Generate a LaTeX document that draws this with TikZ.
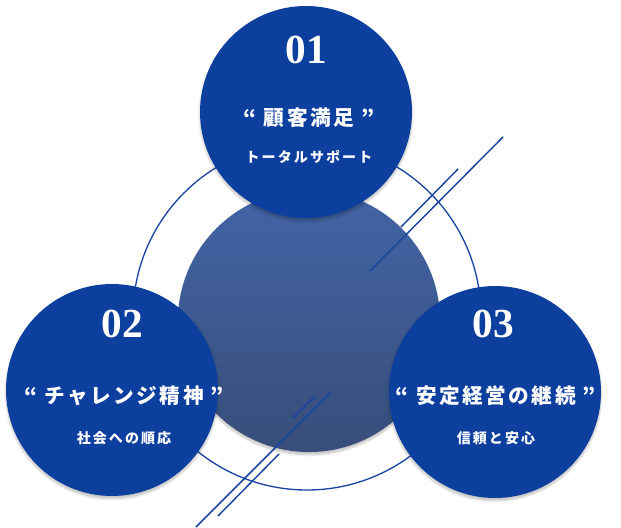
\documentclass[tikz,border=0pt]{standalone}
\usepackage{fontspec}
\newfontfamily\jp{Noto Sans CJK JP}
\newfontfamily\jpm{Noto Sans CJK JP Medium}
\newfontfamily\num{Liberation Serif}
\usetikzlibrary{shadows.blur}
\definecolor{navy}{HTML}{0C3F9E}
\definecolor{gtop}{HTML}{4264A6}
\definecolor{gbot}{HTML}{384E7A}
\definecolor{lineb}{HTML}{1A45A0}
\begin{document}
\begin{tikzpicture}[x=0.75pt,y=-0.75pt,
  bub/.style={circle,fill=navy,minimum size=212*0.75pt,inner sep=0pt,blur shadow={shadow blur steps=8,shadow xshift=0pt,shadow yshift=-2pt,shadow opacity=25}},
  numt/.style={text=white,font=\num\bfseries\fontsize{31}{34}\selectfont},
  ttl/.style={text=white,font=\jp\bfseries\fontsize{15.5}{18}\selectfont\addfontfeature{LetterSpace=12}},
  sub/.style={text=white,font=\jp\bfseries\fontsize{10.5}{12}\selectfont\addfontfeature{LetterSpace=15}},
  ln/.style={draw=lineb,line width=1.1pt}]
\useasboundingbox (0,0) rectangle (621,528);
\node[circle,draw=lineb,line width=1pt,minimum size=348*0.75pt,inner sep=0pt] (ring) at (307,316) {};
\node[circle,minimum size=262*0.75pt,inner sep=0pt,top color=gtop,bottom color=gbot,blur shadow={shadow blur steps=8,shadow xshift=0pt,shadow yshift=-2pt,shadow opacity=25}] (core) at (309,321) {};
\node[bub] (c1) at (306,112) {};
\node[bub] (c2) at (112,390) {};
\node[bub] (c3) at (495,392) {};
\node[numt] (n1) at (306,50) {01};
\node[ttl] (t1) at (309,118) {“ 顧客満足 ”};
\node[sub] (s1) at (309,157) {トータルサポート};
\node[numt] (n2) at (122,324) {02};
\node[ttl] (t2) at (124,396) {“ チャレンジ精神 ”};
\node[sub] (s2) at (124,438) {社会への順応};
\node[numt] (n3) at (493,324) {03};
\node[ttl] (t3) at (496,396) {“ 安定経営の継続 ”};
\node[sub] (s3) at (496,438) {信頼と安心};
\coordinate (a1) at (503,137); \coordinate (a2) at (370,271);
\coordinate (b1) at (458,169); \coordinate (b2) at (401,227);
\coordinate (c1a) at (330,393); \coordinate (c2a) at (196,527);
\coordinate (d1) at (315,396); \coordinate (d2) at (293,418);
\coordinate (e1) at (279,454); \coordinate (e2) at (218,516);
\draw[ln] (a1)--(a2); \draw[ln] (b1)--(b2); \draw[ln] (c1a)--(c2a);
\draw[ln] (d1)--(d2); \draw[ln] (e1)--(e2);
\end{tikzpicture}
\end{document}
